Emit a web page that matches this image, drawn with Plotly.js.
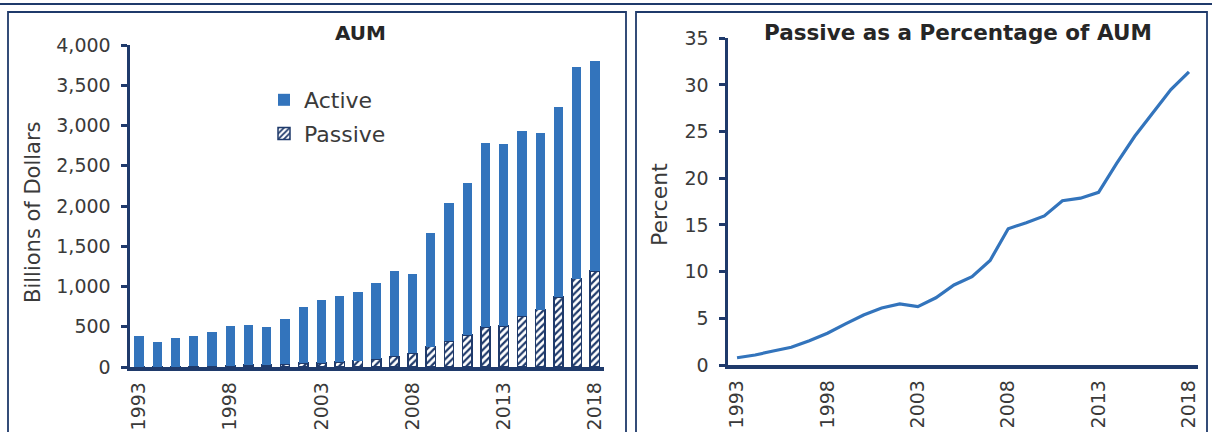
<!DOCTYPE html>
<html>
<head>
<meta charset="utf-8">
<script src="https://cdn.plot.ly/plotly-3.0.1.min.js"></script>
<style>html,body{margin:0;padding:0;background:#fff;}#chart{width:1212px;height:432px;}</style>
</head>
<body>
<div id="chart"></div>
<script>
const years = ['1993','1994','1995','1996','1997','1998','1999','2000','2001','2002','2003','2004','2005','2006','2007','2008','2009','2010','2011','2012','2013','2014','2015','2016','2017','2018'];
const tickYears = ['1993','1998','2003','2008','2013','2018'];
const activeAUM = [377,307,351,376,424,488,495,470,562,697,786,824,857,944,1062,989,1409,1710,1887,2290,2256,2300,2200,2357,2626,2608];
const passiveAUM = [3,3,5,7,11,17,23,27,36,48,52,64,80,98,133,168,253,325,400,498,512,633,712,870,1098,1192];
const passivePct = [0.78,1.07,1.5,1.9,2.6,3.4,4.4,5.36,6.1,6.54,6.25,7.2,8.57,9.46,11.2,14.6,15.25,15.97,17.6,17.87,18.5,21.6,24.5,26.97,29.5,31.4];

const W = 1212, H = 432;
const navy = '#1F3A6B';
const blue = '#3374BC';
const txt = '#3A3A3A';
const FONT = '"DejaVu Sans", sans-serif';
const px = v => v / W;
const py = v => 1 - v / H;

const traces = [
  {type:'bar', name:'Passive', x:years, y:passiveAUM, xaxis:'x', yaxis:'y', legendgroup:'p', legendrank:2,
   marker:{color:'white', line:{color:navy, width:1.5}, pattern:{shape:'/', fgcolor:navy, bgcolor:'white', size:5, solidity:0.45}},
   hoverinfo:'x+y'},
  {type:'bar', name:'Active', x:years, y:activeAUM, xaxis:'x', yaxis:'y', legendgroup:'a', legendrank:1,
   marker:{color:blue, line:{width:0}}, hoverinfo:'x+y'},
  {type:'scatter', mode:'lines', name:'Passive %', x:years, y:passivePct, xaxis:'x2', yaxis:'y2',
   line:{color:blue, width:3.2}, showlegend:false}
];

const axisCommon = {
  showline:true, linecolor:navy, linewidth:3.5, showgrid:false, zeroline:false,
  tickfont:{family:FONT, size:19, color:txt}
};

const layout = {
  width:W, height:H, margin:{l:0,r:0,t:0,b:0}, paper_bgcolor:'white', plot_bgcolor:'white',
  barmode:'stack', bargap:0.49, showlegend:true,
  font:{family:FONT, color:txt},
  legend:{x:px(264), y:py(79), xanchor:'left', yanchor:'top', bgcolor:'rgba(0,0,0,0)',
          font:{family:FONT, size:22, color:txt}, traceorder:'grouped', tracegroupgap:2},
  xaxis:Object.assign({}, axisCommon, {domain:[px(130), px(604)], anchor:'y', type:'category',
          range:[-0.5, 25.5], tickmode:'array', tickvals:tickYears, ticktext:tickYears,
          tickangle:-90, ticks:'', ticklabelstandoff:4}),
  yaxis:Object.assign({}, axisCommon, {domain:[1-367/H, 1-45/H], anchor:'x', range:[0,4000],
          dtick:500, tickformat:',d', ticks:'outside', ticklen:6, tickwidth:3, tickcolor:navy, ticklabelstandoff:6}),
  xaxis2:Object.assign({}, axisCommon, {domain:[px(728), px(1198)], anchor:'y2', type:'category',
          range:[-0.5, 25.5], tickmode:'array', tickvals:tickYears, ticktext:tickYears,
          tickangle:-90, ticks:'', ticklabelstandoff:4}),
  yaxis2:Object.assign({}, axisCommon, {domain:[1-365/H, 1-38.3/H], anchor:'x2', range:[0,35],
          dtick:5, ticks:'outside', ticklen:6, tickwidth:3, tickcolor:navy, ticklabelstandoff:6}),
  annotations:[
    {text:'<b>AUM</b>', xref:'paper', yref:'paper', x:px(360), y:py(33), xanchor:'center', yanchor:'middle',
     showarrow:false, font:{family:FONT, size:20, color:'#262626'}},
    {text:'<b>Passive as a Percentage of AUM</b>', xref:'paper', yref:'paper', x:px(958), y:py(32), xanchor:'center', yanchor:'middle',
     showarrow:false, font:{family:FONT, size:21.5, color:'#262626'}},
    {text:'Billions of Dollars', xref:'paper', yref:'paper', x:px(33), y:py(212), xanchor:'center', yanchor:'middle',
     textangle:-90, showarrow:false, font:{family:FONT, size:21, color:txt}},
    {text:'Percent', xref:'paper', yref:'paper', x:px(660), y:py(205), xanchor:'center', yanchor:'middle',
     textangle:-90, showarrow:false, font:{family:FONT, size:22, color:txt}}
  ],
  shapes:[
    {type:'line', xref:'paper', yref:'paper', x0:px(0), x1:px(1212), y0:py(4), y1:py(4), line:{color:navy, width:2}},
    {type:'path', xref:'paper', yref:'paper', path:`M ${px(8)} ${py(440)} L ${px(8)} ${py(12)} L ${px(626)} ${py(12)} L ${px(626)} ${py(440)}`, line:{color:navy, width:1.8}},
    {type:'path', xref:'paper', yref:'paper', path:`M ${px(636)} ${py(440)} L ${px(636)} ${py(12)} L ${px(1207)} ${py(12)} L ${px(1207)} ${py(440)}`, line:{color:navy, width:1.8}}
  ]
};

Plotly.newPlot('chart', traces, layout, {displayModeBar:false, staticPlot:true});
</script>
</body>
</html>
